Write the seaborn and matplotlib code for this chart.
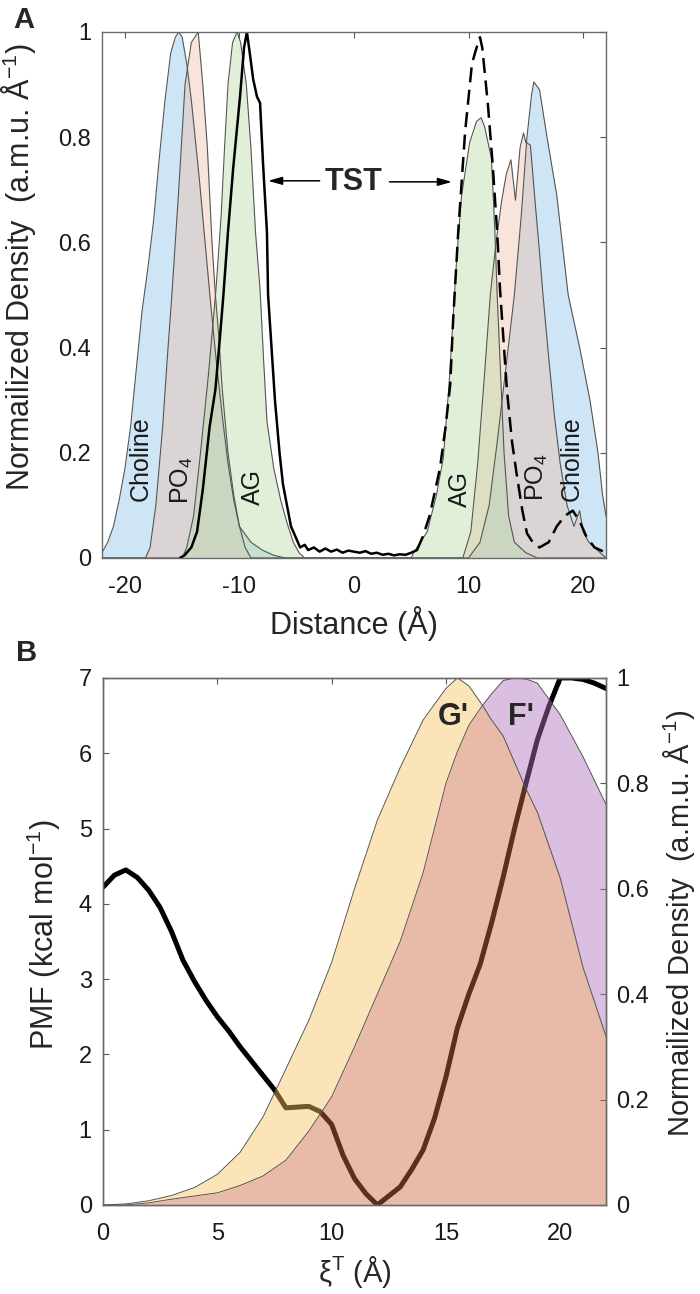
"""
Two-panel figure: density profiles across the bilayer (A)
and PMF with fragment densities along xi^T (B).
"""

import matplotlib
matplotlib.use("Agg")

import numpy as np
import matplotlib.pyplot as plt
import seaborn as sns


# ---------------- Panel A : normalized density vs distance ----------------
CHOL_X = [-22, -21.5, -21, -20.5, -20, -19.5, -19, -18.5, -18, -17.5, -17, -16.5,
          -16, -15.6, -15.3, -15, -14.6, -14.2, -13.5, -13, -12.5, -12, -11.5, -11,
          -10.5, -10, -9, -8, -7, -6, 10, 11, 11.8, 12.5, 13.2, 14.0, 14.6, 15.1,
          15.5, 15.7, 16.2, 16.85, 17.7, 18.7, 19.7, 20.6, 21.3, 21.7, 22]
CHOL_Y = [0.01, 0.03, 0.06, 0.11, 0.17, 0.25, 0.36, 0.47, 0.55, 0.64, 0.76, 0.87,
          0.96, 0.99, 1.0, 0.99, 0.94, 0.87, 0.72, 0.6, 0.48, 0.37, 0.27, 0.18,
          0.11, 0.06, 0.03, 0.015, 0.005, 0.0, 0.0, 0.03, 0.1, 0.22, 0.35, 0.5, 0.65, 0.8,
          0.88, 0.905, 0.89, 0.8, 0.69, 0.5, 0.4, 0.3, 0.2, 0.12, 0.08]

PO4_X = [-22, -18.2, -17.8, -17.3, -16.7, -16.3, -15.9, -15.3, -14.75, -14.2, -13.6,
         -13.2, -12.8, -12.4, -12.1, -11.8, -11.5, -11, -10.5, -10, -9.5, -9,
         9.5, 10.2, 10.8, 11.4, 11.9, 12.4, 12.9, 13.3, 13.7, 14.1, 14.5, 14.8, 15.0,
         15.4, 15.8, 16.2, 16.5, 17.0, 17.5, 18.0, 18.6, 19.2, 19.7, 20.0, 20.5, 21.5, 22]
PO4_Y = [0.0, 0.0, 0.02, 0.1, 0.25, 0.38, 0.5, 0.7, 0.9, 0.98, 1.0,
         0.9, 0.78, 0.6, 0.5, 0.42, 0.32, 0.2, 0.12, 0.06, 0.02, 0.0,
         0.0, 0.05, 0.18, 0.35, 0.5, 0.6, 0.68, 0.73, 0.757, 0.68, 0.78, 0.808, 0.79,
         0.785, 0.68, 0.58, 0.5, 0.38, 0.27, 0.18, 0.1, 0.06, 0.09, 0.05, 0.03, 0.01, 0.0]

AG_X = [-22, -15, -14.6, -14, -13.4, -12.7, -12.05, -11.6, -11.3, -11.0, -10.6, -10.2,
        -9.9, -9.4, -9.0, -8.6, -8.2, -7.9, -7.6, -7.0, -6.4, -5.85, -5.3, -4.8, -4.3,
        5.0, 5.2, 6.4, 7.2, 7.8, 8.3, 8.8, 9.0, 9.4, 10.1, 10.7, 11.1, 11.4, 12.0,
        12.3, 12.5, 12.8, 13.1, 13.5, 14.0, 15.0, 16.0, 22]
AG_Y = [0.0, 0.0, 0.02, 0.08, 0.2, 0.35, 0.51, 0.65, 0.78, 0.9, 0.98, 1.0,
        0.98, 0.9, 0.78, 0.62, 0.51, 0.38, 0.26, 0.17, 0.11, 0.067, 0.03, 0.01, 0.0,
        0.0, 0.01, 0.05, 0.12, 0.19, 0.33, 0.51, 0.58, 0.69, 0.79, 0.83, 0.837, 0.82, 0.76,
        0.62, 0.5, 0.35, 0.2, 0.08, 0.03, 0.01, 0.0, 0.0]

TST_L_X = [-15.2, -14.8, -14.2, -13.7, -13.2, -12.6, -12.1, -11.7, -11.4, -11.0, -10.55,
           -9.95, -9.6, -9.35, -9.1, -8.8, -8.47, -8.2, -7.94, -7.6, -7.5, -7.2, -6.9,
           -6.5, -6.2, -5.85, -5.5, -5.1, -4.7, -4.3, -4.0, -3.5, -3.0, -2.5, -2.0, -1.5,
           -1.0, -0.5, 0.0, 0.5, 1.0, 1.5, 2.0, 2.5, 3.0, 3.5, 4.0, 4.5, 5.0, 5.5]
TST_L_Y = [0.0, 0.005, 0.02, 0.05, 0.13, 0.25, 0.32, 0.42, 0.5, 0.62, 0.74,
           0.877, 0.97, 1.0, 0.96, 0.91, 0.877, 0.865, 0.75, 0.62, 0.5, 0.4, 0.3,
           0.2, 0.14, 0.1, 0.06, 0.04, 0.02, 0.025, 0.015, 0.02, 0.012, 0.018, 0.012, 0.016,
           0.01, 0.014, 0.012, 0.01, 0.013, 0.008, 0.01, 0.006, 0.008, 0.005, 0.007, 0.006, 0.01, 0.015]

TST_R_X = [5.5, 6.0, 6.6, 7.0, 7.5, 8.0, 8.4, 8.65, 9.1, 9.7, 10.3, 10.7, 11.0, 11.2,
           11.7, 12.1, 12.5, 12.75, 13.35, 13.8, 14.2, 14.7, 15.1, 15.6, 16.2, 17.0,
           17.7, 18.4, 19.1, 19.7, 20.3, 21.0, 22.0]
TST_R_Y = [0.015, 0.04, 0.08, 0.12, 0.17, 0.25, 0.33, 0.45, 0.62, 0.81, 0.94, 0.97, 0.99, 0.97,
           0.86, 0.75, 0.62, 0.51, 0.32, 0.22, 0.16, 0.09, 0.047, 0.03, 0.02, 0.03,
           0.06, 0.08, 0.09, 0.07, 0.04, 0.02, 0.01]

A_LABELS = ["Choline", "PO$_4$", "AG", "AG", "PO$_4$", "Choline"]
A_LABEL_X = [-18.6, -15.0, -8.8, 9.25, 16.0, 19.0]
A_LABEL_Y = [0.188, 0.148, 0.135, 0.131, 0.154, 0.188]

# ---------------- Panel B : PMF and fragment densities ----------------
PMF_X = [0, 0.5, 1, 1.5, 2, 2.5, 3, 3.5, 4, 4.5, 5, 5.5, 6, 6.5, 7, 7.5, 8, 8.5, 9,
         9.5, 10, 10.5, 11, 11.5, 12, 12.5, 13, 13.5, 14, 14.5, 15, 15.5, 16, 16.5,
         17, 17.5, 18, 18.5, 19, 19.5, 20, 20.5, 21, 21.5, 22]
PMF_Y = [4.22, 4.38, 4.45, 4.35, 4.18, 3.95, 3.63, 3.25, 2.97, 2.72, 2.5, 2.31, 2.1,
         1.91, 1.72, 1.53, 1.29, 1.3, 1.31, 1.24, 1.07, 0.66, 0.35, 0.15, 0.0, 0.12,
         0.24, 0.47, 0.73, 1.15, 1.7, 2.35, 2.8, 3.2, 3.75, 4.35, 5.0, 5.6, 6.18, 6.62,
         7.0, 7.0, 6.98, 6.93, 6.86]

DENS_X = [0, 1, 2, 3, 4, 5, 6, 7, 8, 9, 10, 11, 12, 13, 14, 15, 15.5, 16, 16.6, 17,
          17.5, 18, 18.5, 19, 20, 21, 22]
G_PRIME = [0.0, 0.002, 0.008, 0.018, 0.033, 0.058, 0.1, 0.167, 0.258, 0.35, 0.46, 0.6,
           0.73, 0.83, 0.92, 0.98, 1.0, 0.985, 0.948, 0.92, 0.89, 0.84, 0.79, 0.745,
           0.62, 0.45, 0.32]
F_PRIME = [0.0, 0.0, 0.004, 0.011, 0.017, 0.023, 0.037, 0.055, 0.085, 0.14, 0.205, 0.3,
           0.4, 0.5, 0.63, 0.8, 0.86, 0.91, 0.948, 0.97, 0.995, 1.0, 0.998, 0.99,
           0.93, 0.85, 0.76]


FONT = ["Liberation Sans", "DejaVu Sans"]
EDGE = "#555555"


def style_axes(ax):

    for spine in ax.spines.values():
        spine.set_color("#6a6a6a")
        spine.set_linewidth(1.0)

    ax.tick_params(
        direction="in",
        length=4,
        width=0.8,
        color="#555555",
        labelsize=17,
        labelcolor="#1a1a1a"
    )
    ax.tick_params(axis="x", pad=13)
    ax.tick_params(axis="y", pad=8)


def draw_panel_a(ax):

    fills = [
        (CHOL_X, CHOL_Y, "#82c0e6"),
        (PO4_X, PO4_Y, "#efbda3"),
        (AG_X, AG_Y, "#b6d9a2"),
    ]

    for xs, ys, col in fills:
        ax.fill_between(xs, 0, ys, color=col, alpha=0.4, linewidth=0)
        sns.lineplot(x=xs, y=ys, ax=ax, color=EDGE, linewidth=0.8,
                     sort=False, estimator=None)

    sns.lineplot(x=TST_L_X, y=TST_L_Y, ax=ax, color="black", linewidth=1.8,
                 sort=False, estimator=None)
    sns.lineplot(x=TST_R_X, y=TST_R_Y, ax=ax, color="black", linewidth=1.8,
                 sort=False, estimator=None)
    ax.lines[-1].set_dashes([6, 3])

    for txt, lx, ly in zip(A_LABELS, A_LABEL_X, A_LABEL_Y):
        ax.text(lx, ly, txt, rotation=90, ha="center", va="center",
                fontsize=18, color="#1a1a1a")

    ax.text(0, 0.715, "TST", ha="center", va="center",
            fontsize=22, fontweight="bold")
    arrow = dict(arrowstyle="-|>,head_length=0.7,head_width=0.2",
                 color="black", lw=1.1, shrinkA=0, shrinkB=0)
    ax.annotate("", xy=(-7.5, 0.717), xytext=(-3.0, 0.717), arrowprops=arrow)
    ax.annotate("", xy=(8.55, 0.715), xytext=(3.1, 0.715), arrowprops=arrow)

    ax.set_xlim(-22, 22)
    ax.set_ylim(0, 1)
    ax.set_xticks([-20, -10, 0, 10, 20])
    ax.set_xticklabels(["-20", "-10", "0", "10", "20"])
    ax.set_yticks([0, 0.2, 0.4, 0.6, 0.8, 1])
    ax.set_yticklabels(["0", "0.2", "0.4", "0.6", "0.8", "1"])

    style_axes(ax)
    ax.tick_params(top=True, right=True)

    ax.set_xlabel("Distance (Å)", fontsize=22)
    ax.xaxis.set_label_coords(0.5, -0.091)
    ax.set_ylabel("Normailized Density  (a.m.u. Å$^{-1}$)", fontsize=22)
    ax.yaxis.set_label_coords(-0.127, 0.553)


def draw_panel_b(ax):

    sns.lineplot(x=PMF_X, y=PMF_Y, ax=ax, color="black", linewidth=3.6,
                 sort=False, estimator=None)

    ax.set_xlim(0, 22)
    ax.set_ylim(0, 7)
    ax.set_xticks([0, 5, 10, 15, 20])
    ax.set_yticks([0, 1, 2, 3, 4, 5, 6, 7])
    style_axes(ax)
    ax.tick_params(top=True)

    ax.set_xlabel("ξ$^{T}$ (Å)", fontsize=21)
    ax.xaxis.set_label_coords(0.5, -0.093)
    ax.set_ylabel("PMF (kcal mol$^{-1}$)", fontsize=22)
    ax.yaxis.set_label_coords(-0.0795, 0.512)

    ax2 = ax.twinx()

    xd = np.array(DENS_X)
    g = np.array(G_PRIME)
    f = np.array(F_PRIME)

    ax2.fill_between(xd, 0, np.minimum(g, f), color="#ce6a42", alpha=0.45, linewidth=0)
    ax2.fill_between(xd, f, g, where=g >= f, interpolate=True,
                     color="#f8c763", alpha=0.45, linewidth=0)
    ax2.fill_between(xd, g, f, where=f >= g, interpolate=True,
                     color="#b173bc", alpha=0.45, linewidth=0)
    sns.lineplot(x=DENS_X, y=G_PRIME, ax=ax2, color=EDGE, linewidth=0.7,
                 sort=False, estimator=None)
    sns.lineplot(x=DENS_X, y=F_PRIME, ax=ax2, color=EDGE, linewidth=0.7,
                 sort=False, estimator=None)

    ax2.text(15.3, 0.925, "G'", ha="center", va="center", fontsize=22, fontweight="bold")
    ax2.text(18.3, 0.925, "F'", ha="center", va="center", fontsize=22, fontweight="bold")

    ax2.set_xlim(0, 22)
    ax2.set_ylim(0, 1)
    ax2.set_yticks([0, 0.2, 0.4, 0.6, 0.8, 1])
    ax2.set_yticklabels(["0", "0.2", "0.4", "0.6", "0.8", "1"])
    style_axes(ax2)
    ax2.tick_params(axis="y", pad=7.5)

    ax2.set_ylabel("Normailized Density  (a.m.u. Å$^{-1}$)", fontsize=21)
    ax2.yaxis.set_label_coords(1.11, 0.535)


if __name__ == "__main__":

    sns.set_theme(style="white")
    plt.rcParams["font.family"] = FONT
    plt.rcParams["mathtext.fontset"] = "custom"
    plt.rcParams["mathtext.rm"] = "Liberation Sans"
    plt.rcParams["mathtext.it"] = "Liberation Sans:italic"
    plt.rcParams["mathtext.bf"] = "Liberation Sans:bold"
    plt.rcParams["mathtext.default"] = "regular"
    plt.rcParams["axes.unicode_minus"] = False

    fig = plt.figure(figsize=(7, 12.94), dpi=100)

    ax_a = fig.add_axes([0.1457, 0.5688, 0.72, 0.4065])
    ax_b = fig.add_axes([0.1471, 0.0688, 0.7186, 0.4073])

    draw_panel_a(ax_a)
    draw_panel_b(ax_b)

    fig.text(13 / 700, 1 - 6 / 1294, "A", ha="left", va="top",
             fontsize=21, fontweight="bold")
    fig.text(16 / 700, 1 - 639 / 1294, "B", ha="left", va="top",
             fontsize=21, fontweight="bold")

    fig.savefig("out.png", dpi=100)
    plt.close(fig)
